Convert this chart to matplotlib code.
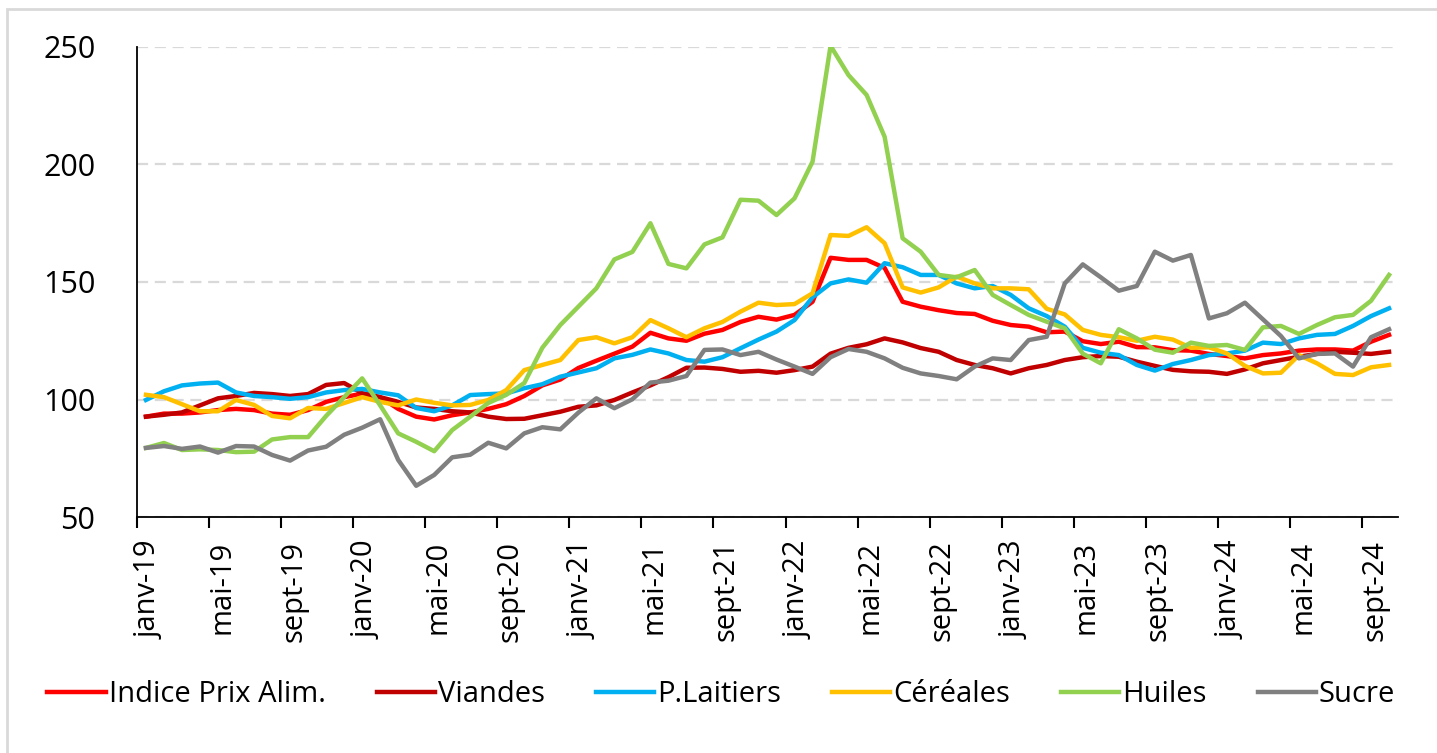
import numpy as np
import matplotlib.pyplot as plt
from matplotlib.patches import Rectangle

# Indices FAO (2014-2016 = 100), mensuel janv-19 -> oct-24
mois = ['janv', 'févr', 'mars', 'avr', 'mai', 'juin',
        'juil', 'août', 'sept', 'oct', 'nov', 'déc']
dates = [f"{mois[i % 12]}-{19 + i // 12}" for i in range(70)]

indice = [92.7, 94.0, 94.0, 94.5, 95.5, 96.0, 95.5, 94.0, 93.5, 95.5, 99.0, 101.0,
          102.5, 101.0, 96.0, 92.7, 91.5, 93.3, 94.5, 96.0, 98.0, 101.5, 106.0, 108.5,
          113.4, 116.5, 119.5, 122.5, 128.4, 126.0, 125.0, 128.0, 129.6, 133.0, 135.2, 134.0,
          136.0, 141.6, 160.3, 159.4, 159.4, 156.0, 141.6, 139.5, 138.0, 136.8, 136.4, 133.5,
          131.7, 131.0, 128.6, 128.9, 124.8, 123.6, 124.6, 122.3, 122.2, 121.0, 120.8, 119.4,
          118.5, 117.5, 118.9, 119.6, 120.8, 121.3, 121.3, 120.8, 124.6, 127.5]

viandes = [92.7, 93.5, 94.5, 97.5, 100.5, 101.5, 102.8, 102.3, 101.5, 102.3, 106.2, 107.0,
           102.7, 101.0, 99.0, 96.6, 96.0, 95.0, 94.5, 92.7, 91.7, 91.8, 93.3, 94.8,
           96.9, 97.5, 99.8, 103.0, 106.0, 109.5, 113.5, 113.6, 113.0, 111.8, 112.2, 111.4,
           112.5, 114.0, 119.5, 122.0, 123.5, 126.0, 124.3, 121.9, 120.3, 116.8, 114.7, 113.3,
           111.1, 113.3, 114.7, 116.8, 118.0, 118.5, 118.2, 116.1, 114.3, 112.6, 112.0, 111.8,
           110.9, 112.8, 115.4, 116.8, 118.2, 119.4, 120.3, 119.9, 119.4, 120.3]

laitiers = [99.8, 103.5, 106.0, 106.8, 107.2, 103.0, 101.5, 101.0, 100.3, 101.0, 103.0, 104.0,
            104.5, 103.0, 101.8, 96.4, 95.0, 97.5, 101.9, 102.3, 102.6, 104.8, 106.5, 109.7,
            111.5, 113.3, 117.5, 119.0, 121.3, 119.6, 116.8, 116.1, 118.0, 121.8, 125.5, 128.9,
            133.8, 143.5, 149.4, 151.1, 149.7, 158.0, 156.3, 153.0, 153.0, 149.4, 147.3, 148.3,
            144.5, 138.8, 135.5, 131.0, 122.0, 119.9, 118.9, 114.7, 112.3, 115.1, 116.8, 118.9,
            119.6, 120.8, 124.2, 123.6, 126.0, 127.5, 127.9, 131.3, 135.5, 138.8]

cereales = [102.0, 101.0, 98.0, 95.0, 95.0, 99.8, 97.7, 93.0, 92.0, 96.4, 96.0, 98.5,
            101.0, 99.0, 97.5, 100.0, 98.6, 97.5, 97.7, 99.8, 104.0, 112.5, 114.7, 116.8,
            125.3, 126.5, 123.9, 126.5, 133.8, 130.3, 126.5, 130.3, 133.0, 137.4, 141.2, 140.2,
            140.6, 145.2, 170.0, 169.6, 173.3, 166.5, 147.7, 145.5, 147.7, 152.3, 149.4, 147.3,
            147.3, 146.9, 138.6, 136.2, 129.6, 127.5, 126.5, 125.0, 126.7, 125.5, 122.0, 122.2,
            119.6, 114.3, 111.1, 111.4, 118.9, 115.4, 110.9, 110.4, 113.7, 114.7]

huiles = [79.4, 81.5, 78.5, 78.8, 78.5, 77.6, 77.8, 83.0, 84.0, 84.0, 93.0, 101.0,
          109.0, 97.5, 85.6, 82.0, 78.0, 87.0, 92.7, 98.5, 102.0, 107.0, 122.0, 131.7,
          139.5, 147.3, 159.6, 162.8, 175.0, 157.7, 155.8, 166.0, 169.0, 185.0, 184.6, 178.5,
          185.6, 201.2, 250.5, 238.0, 229.6, 211.8, 168.6, 162.9, 153.0, 152.0, 155.1, 144.5,
          140.2, 136.0, 133.1, 130.3, 119.5, 115.4, 129.9, 126.0, 121.2, 119.9, 124.2, 122.8,
          123.2, 121.1, 130.7, 131.3, 127.9, 131.7, 135.0, 136.0, 142.0, 153.0]

sucre = [79.4, 80.2, 79.0, 80.0, 77.4, 80.2, 80.0, 76.4, 74.0, 78.3, 79.9, 85.0,
         88.0, 91.6, 74.3, 63.3, 67.9, 75.4, 76.5, 81.6, 79.2, 85.6, 88.2, 87.3,
         94.4, 100.5, 96.3, 100.1, 107.2, 108.0, 110.0, 121.1, 121.3, 118.9, 120.3, 117.0,
         114.0, 110.9, 118.0, 121.5, 120.3, 117.5, 113.5, 111.1, 110.0, 108.6, 114.0, 117.5,
         116.8, 125.3, 126.7, 149.4, 157.5, 152.0, 146.3, 148.3, 162.9, 159.1, 161.5, 134.5,
         136.7, 141.2, 134.1, 127.0, 117.5, 119.4, 119.6, 114.0, 126.5, 129.9]

series = [("Indice Prix Alim.", indice, "#FF0000"),
          ("Viandes", viandes, "#C00000"),
          ("P.Laitiers", laitiers, "#00B0F0"),
          ("Céréales", cereales, "#FFC000"),
          ("Huiles", huiles, "#92D050"),
          ("Sucre", sucre, "#808080")]

plt.rcParams['font.family'] = ['Open Sans', 'DejaVu Sans']

fig = plt.figure(figsize=(14.37, 7.53), dpi=100)
ax = fig.add_axes([0.0953, 0.3134, 0.8776, 0.6242])

# cadre gris autour du graphique
fig.patches.append(Rectangle((7 / 1437, -0.05), 1.2, 1 - 9 / 753 + 0.05,
                             transform=fig.transFigure, fill=False,
                             edgecolor="#D9D9D9", linewidth=2))

x = np.arange(len(dates)) + 0.5   # points au centre de chaque mois
for nom, vals, col in series:
    ax.plot(x, vals, color=col, linewidth=3.2, label=nom)

ax.set_xlim(0, len(dates))
ax.set_ylim(50, 250)
ax.set_yticks([50, 100, 150, 200, 250])
ax.grid(axis='y', color="#D9D9D9", linestyle=(0, (5, 3)), linewidth=1.6)
ax.set_axisbelow(True)

# graduations tous les 4 mois, libellés centrés sur le mois
ax.set_xticks(np.arange(0, len(dates), 4))
ax.set_xticklabels([])
ax.set_xticks(np.arange(0, len(dates), 4) + 0.7, minor=True)
ax.set_xticklabels(dates[::4], minor=True, rotation=90, fontsize=21)
ax.tick_params(axis='x', which='major', length=8, width=1.5, color='black')
ax.tick_params(axis='x', which='minor', length=0, pad=17)
ax.tick_params(axis='y', length=0, pad=30, labelsize=22)

for s in ['top', 'right']:
    ax.spines[s].set_visible(False)
for s in ['left', 'bottom']:
    ax.spines[s].set_color('black')
    ax.spines[s].set_linewidth(1.3)

ax.legend(loc='center', bbox_to_anchor=(0.502, 0.078), bbox_transform=fig.transFigure,
          ncol=6, frameon=False, fontsize=21, handlelength=2.0, handletextpad=0.1,
          columnspacing=1.75)

fig.savefig("out.png", dpi=100)
